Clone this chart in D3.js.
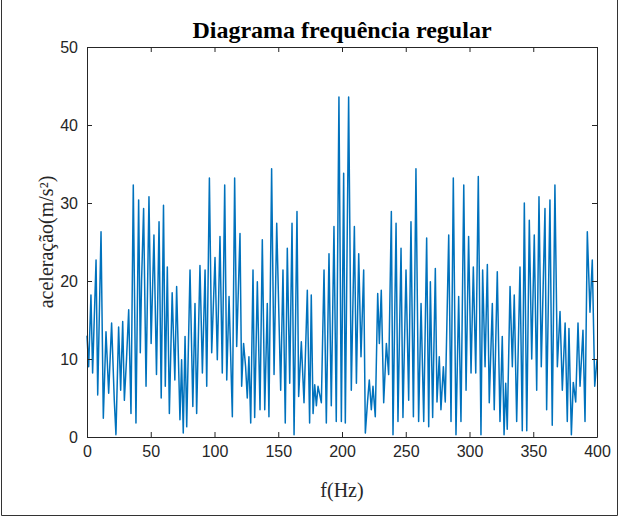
<!DOCTYPE html>
<html>
<head>
<meta charset="utf-8">
<script src="https://cdn.jsdelivr.net/npm/d3@7"></script>
<style>
  body { margin: 0; background: #fff; }
  svg { display: block; }
</style>
</head>
<body>
<svg width="620" height="517"></svg>
<script>
// frequencia (Hz) dos vertices
var freq = [0, 1.3, 3.1, 4.4, 7.1, 8.4, 11, 12.8, 14.9, 17, 19.3, 21.4, 22.7, 24.8, 26.4, 28, 29.3, 31, 32.7, 34.5,
    36.3, 38.4, 40.5, 41.8, 42.8, 44.4, 46.3, 48.6, 50.3, 52.5, 54.5, 56.5, 58.2, 60, 61.4, 63, 64.6, 66.8, 68.9, 70.3,
    72.9, 74.2, 75.5, 76.9, 78.2, 80.8, 83, 84.7, 86, 88.6, 90.5, 92.6, 93.9, 96, 97.8, 100.4, 102.2, 104.3, 106.1, 108,
    109.6, 111.4, 114, 115.8, 117.4, 120, 121.3, 122.8, 124.4, 125.7, 127, 128.4, 130.2, 131.5, 133.6, 135.7, 137.5, 139.4, 141.4, 142.7,
    144.8, 146.7, 148.8, 151.9, 153.7, 155.5, 157.1, 159, 160.8, 162.4, 164.7, 166, 168.1, 170.2, 172.8, 174.6, 175.9, 177.3, 178.6, 179.9,
    181.2, 183.8, 185.9, 187.7, 189.8, 191.6, 193.7, 195.5, 197.6, 199.5, 201.3, 202.6, 205.2, 207.3, 209.7, 211.3, 213.1, 214.9,
    217, 218.3, 220.1, 221.4, 223, 224.3, 226.1, 228, 229.3, 230.8, 232.7, 234.8, 236.6, 238.7, 240, 242.4, 243.9, 246.3, 247.8,
    250.2, 252.3, 254.1, 256, 258, 260.1, 262, 264.1, 266.4, 268, 269.3, 271.1, 273.2, 274.5, 276.3, 277.6, 279.5, 281, 283.7,
    285.5, 287.3, 289.4, 291.5, 293.3, 295.5, 297.3, 299.3, 301.2, 303, 304.9, 306.9, 309, 310.3, 312.2, 314, 315.5, 317.9,
    319.4, 321.8, 323.9, 325.7, 327.1, 328.4, 329.6, 331.8, 333.6, 335.1, 337, 339.6, 341.4, 343, 344.9, 346.9, 348.8, 350.8,
    352.7, 354.5, 356.3, 359.2, 360.5, 363.1, 364.9, 367, 368.9, 371, 372.8, 375, 376.7, 378, 379.9, 381.4, 383.3, 385.1,
    386.7, 389, 390.6, 392.4, 394.5, 396.3, 398.2, 400];
// aceleracao (m/s²)
var acc = [13, 9, 18.2, 8.2, 22.7, 5.4, 26.3, 2.4, 13.5, 5.6, 14.6, 4.7, 0.3, 14.1, 6, 14.8, 4.7, 10, 16.3, 3,
    32.3, 1.8, 30.4, 10.8, 20, 29.3, 6.5, 30.8, 12, 25.9, 8, 27.6, 5, 29.7, 6.5, 21.8, 3, 18.5, 7.3, 19.3,
    2.2, 9.9, 0.5, 12.9, 1.3, 21.4, 3.9, 17.1, 3, 22, 8.2, 21.4, 6.5, 33.2, 10.8, 23, 9.9, 25.7, 8.2, 32.3,
    7.3, 18, 2.6, 33.2, 11.6, 26.1, 6.5, 12, 9, 5, 10.3, 1.8, 21.4, 2.5, 19.9, 3.5, 25.3, 3.5, 17.1, 2.6,
    34.4, 8, 27.4, 6, 21.4, 1.8, 24.2, 6.9, 27.4, 0.3, 28.9, 5.2, 12.2, 4.4, 18.8, 1.8, 18.2, 3, 6.7, 4,
    6.5, 4.4, 21.4, 1.8, 23.5, 4, 27, 2, 43.6, 2, 33.8, 1.8, 43.6, 6, 27, 6.9, 23.5, 10.3,
    21.4, 0.5, 4.7, 7.3, 3.5, 6.5, 2.6, 18.4, 12, 18.8, 4.4, 12, 8, 28.9, 0.3, 27.4, 2, 24.2, 2.5,
    21.4, 4.7, 27.6, 2.6, 34.4, 2, 17.1, 2, 25.5, 1.3, 19.9, 2.5, 21.6, 4.5, 10.3, 3.5, 9, 4.5, 25.9,
    2, 33.2, 0.3, 18, 2, 32.3, 6, 25.7, 8.2, 21.8, 8.2, 33.4, 0.3, 21.4, 9, 22.1, 4.4, 17.1,
    3.5, 21.2, 2, 12.9, 0.3, 6.9, 1, 19.3, 9, 18.2, 2, 21.8, 0.8, 30, 0.8, 27.8, 10, 25.9,
    6, 30.8, 9, 29.3, 3.5, 30.4, 1.5, 32.3, 9, 16.1, 6, 14.6, 2, 13.9, 0.3, 7, 4.5, 14.6,
    6.5, 13.7, 2, 26.3, 16, 22.7, 6.5, 9.9];

var xTicks = [0, 50, 100, 150, 200, 250, 300, 350, 400];
var yTicks = [0, 10, 20, 30, 40, 50];
var title = "Diagrama frequência regular";
var xLabel = "f(Hz)";
var yLabel = "aceleração(m/s²)";

var data = freq.map(function(f, i) { return {f: f, a: acc[i]}; });

var svg = d3.select("svg"),
    margin = {top: 47, right: 23, bottom: 80, left: 87},
    width = +svg.attr("width") - margin.left - margin.right,
    height = +svg.attr("height") - margin.top - margin.bottom;

// moldura da figura (esquerda, baixo, direita)
svg.append("path")
    .attr("d", "M1.5,0V515.5H617.5V0")
    .attr("fill", "none").attr("stroke", "#333").attr("stroke-width", 1);

var g = svg.append("g").attr("transform", "translate(" + margin.left + "," + margin.top + ")");

var x = d3.scaleLinear().domain([0, 400]).range([0, width]);
var y = d3.scaleLinear().domain([0, 50]).range([height, 0]);

var line = d3.line()
    .x(function(d) { return x(d.f); })
    .y(function(d) { return y(d.a); });

g.append("path")
    .datum(data)
    .attr("fill", "none")
    .attr("stroke", "#0072BD")
    .attr("stroke-width", 1.5)
    .attr("stroke-linejoin", "round")
    .attr("d", line);

var tickFont = "'Liberation Sans', Arial, sans-serif";

function styleAxis(sel, showText) {
    sel.select(".domain").attr("stroke", "#262626");
    sel.selectAll(".tick line").attr("stroke", "#262626");
    sel.selectAll(".tick text")
        .attr("fill", "#262626")
        .style("font-family", tickFont)
        .style("font-size", "16px");
    if (!showText) sel.selectAll(".tick text").remove();
}

g.append("g")
    .attr("transform", "translate(0," + height + ")")
    .call(d3.axisBottom(x).tickValues(xTicks).tickSizeInner(-5).tickSizeOuter(0).tickPadding(9))
    .call(styleAxis, true);
g.append("g")
    .call(d3.axisTop(x).tickValues(xTicks).tickSizeInner(-5).tickSizeOuter(0))
    .call(styleAxis, false);
g.append("g")
    .call(d3.axisLeft(y).tickValues(yTicks).tickSizeInner(-5).tickSizeOuter(0).tickPadding(9))
    .call(styleAxis, true);
g.append("g")
    .attr("transform", "translate(" + width + ",0)")
    .call(d3.axisRight(y).tickValues(yTicks).tickSizeInner(-5).tickSizeOuter(0))
    .call(styleAxis, false);

svg.append("text")
    .attr("x", margin.left + width / 2)
    .attr("y", 38)
    .attr("text-anchor", "middle")
    .style("font-family", "'Liberation Serif', 'Times New Roman', serif")
    .style("font-weight", "bold")
    .style("font-size", "24px")
    .attr("fill", "#000")
    .text(title);

svg.append("text")
    .attr("x", margin.left + width / 2)
    .attr("y", 497)
    .attr("text-anchor", "middle")
    .style("font-family", "'Liberation Serif', 'Times New Roman', serif")
    .style("font-size", "20px")
    .attr("fill", "#262626")
    .text(xLabel);

svg.append("text")
    .attr("transform", "translate(53," + (margin.top + height / 2) + ") rotate(-90)")
    .attr("text-anchor", "middle")
    .style("font-family", "'Liberation Serif', 'Times New Roman', serif")
    .style("font-size", "20px")
    .attr("fill", "#262626")
    .text(yLabel);
</script>
</body>
</html>
